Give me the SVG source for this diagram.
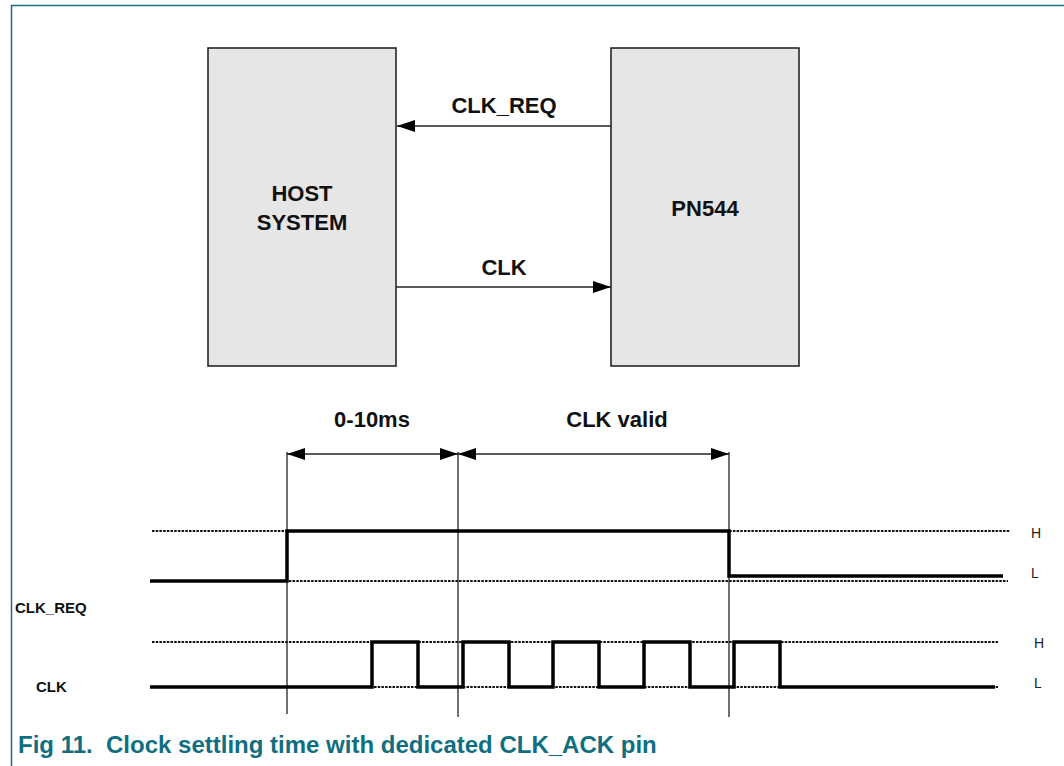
<svg xmlns="http://www.w3.org/2000/svg" width="1064" height="766" viewBox="0 0 1064 766">
<style>
.box{fill:#e6e6e6;stroke:#1a1a1a;stroke-width:1.5}
.lbl{font-family:"Liberation Sans",Arial,sans-serif;font-weight:bold;font-size:22px;fill:#111;text-anchor:middle}
.sig{font-family:"Liberation Sans",Arial,sans-serif;font-weight:bold;font-size:15px;fill:#111}
.hl{font-family:"Liberation Sans",Arial,sans-serif;font-size:14px;fill:#222}
.thin{stroke:#222;stroke-width:1.3;fill:none}
.dot{stroke:#111;stroke-width:2;stroke-dasharray:2.5 1.2;fill:none}
.wave{stroke:#000;stroke-width:3.5;fill:none;stroke-linejoin:miter}
.cap{font-family:"Liberation Sans",Arial,sans-serif;font-weight:bold;font-size:24px;fill:#0f6f80}
</style>
<defs>
<marker id="ah" markerWidth="18" markerHeight="12" refX="18" refY="6" orient="auto-start-reverse" markerUnits="userSpaceOnUse">
<path d="M0,0 L18,6 L0,12 Z" fill="#000"/>
</marker>
</defs>
<rect width="1064" height="766" fill="#fff"/>
<g id="frame">
<path d="M11.5,766 V5.5 H1064" fill="none" stroke="#17707e" stroke-width="1.5"/>
</g>
<g id="host">
<rect class="box" x="208" y="48" width="188" height="318"/>
<text class="lbl" x="302" y="201">HOST</text>
<text class="lbl" x="302" y="230">SYSTEM</text>
</g>
<g id="pn544">
<rect class="box" x="611" y="48" width="188" height="318"/>
<text class="lbl" x="705" y="216">PN544</text>
</g>
<g id="connectors">
<line class="thin" x1="611" y1="126" x2="397" y2="126" marker-end="url(#ah)"/>
<line class="thin" x1="396" y1="287" x2="611" y2="287" marker-end="url(#ah)"/>
<line class="thin" x1="287" y1="454" x2="458" y2="454" marker-start="url(#ah)" marker-end="url(#ah)"/>
<line class="thin" x1="458" y1="454" x2="729" y2="454" marker-start="url(#ah)" marker-end="url(#ah)"/>
</g>
<g id="labels">
<text class="lbl" x="504" y="113">CLK_REQ</text>
<text class="lbl" x="504" y="275">CLK</text>
<text class="lbl" x="372" y="427">0-10ms</text>
<text class="lbl" x="617" y="427">CLK valid</text>
</g>
<g id="timing">
<line class="thin" x1="287" y1="452" x2="287" y2="714"/>
<line class="thin" x1="458" y1="452" x2="458" y2="717"/>
<line class="thin" x1="729" y1="452" x2="729" y2="717"/>
<line class="dot" x1="152" y1="531" x2="1010" y2="531"/>
<line class="dot" x1="152" y1="581" x2="1008" y2="581"/>
<line class="dot" x1="152" y1="642" x2="998" y2="642"/>
<line class="dot" x1="152" y1="687" x2="998" y2="687"/>
<path class="wave" d="M150,581 H287 V531 H729 V576 H1003"/>
<path class="wave" d="M150,687 H372 V642 H418 V687 H463 V642 H509 V687 H553 V642 H599 V687 H644 V642 H690 V687 H734 V642 H780 V687 H995"/>
<text class="sig" x="15" y="613">CLK_REQ</text>
<text class="sig" x="36" y="692">CLK</text>
<text class="hl" x="1031" y="538">H</text>
<text class="hl" x="1031" y="578">L</text>
<text class="hl" x="1034" y="648">H</text>
<text class="hl" x="1034" y="688">L</text>
</g>
<g id="caption">
<text class="cap" x="18" y="753" xml:space="preserve">Fig 11.  Clock settling time with dedicated CLK_ACK pin</text>
</g>
</svg>
